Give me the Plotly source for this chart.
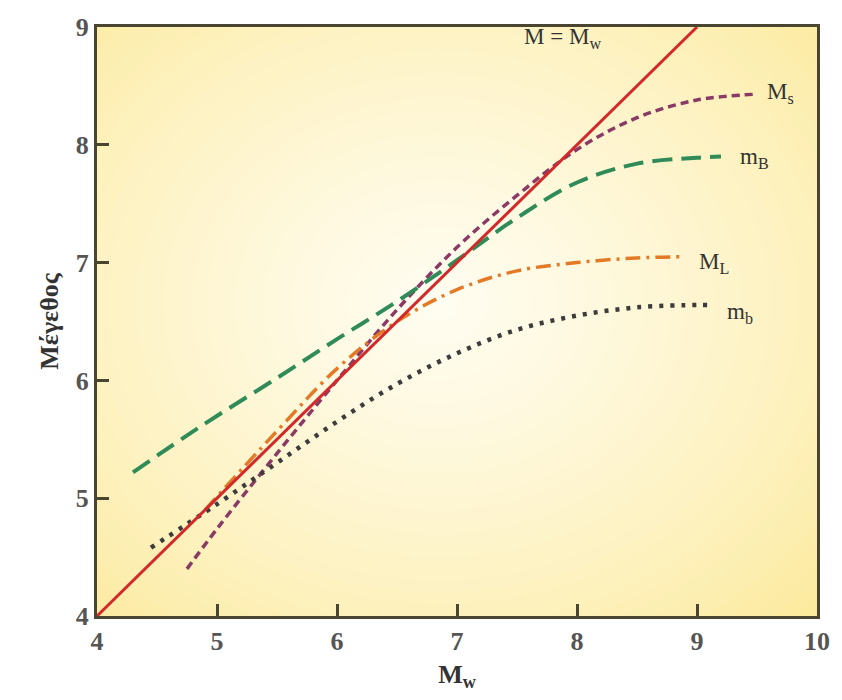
import plotly.graph_objects as go

# ---- data ----
ref_x = [4, 9]
ref_y = [4, 9]

ms_x = [4.75, 5.0, 5.5, 6.0, 6.5, 7.0, 7.5, 8.0, 8.5, 9.0, 9.5]
ms_y = [4.40, 4.74, 5.38, 6.00, 6.60, 7.13, 7.57, 7.96, 8.23, 8.38, 8.43]

mB_x = [4.3, 4.85, 5.5, 6.0, 6.5, 7.0, 7.5, 8.0, 8.5, 9.0, 9.2]
mB_y = [5.22, 5.60, 6.02, 6.35, 6.67, 7.02, 7.38, 7.68, 7.84, 7.89, 7.90]

ml_x = [4.9, 5.5, 6.0, 6.5, 7.0, 7.5, 8.0, 8.5, 8.88]
ml_y = [4.90, 5.57, 6.10, 6.50, 6.77, 6.93, 7.00, 7.04, 7.05]

mb_x = [4.45, 5.0, 5.5, 6.0, 6.5, 7.0, 7.5, 8.0, 8.5, 9.0, 9.1]
mb_y = [4.58, 4.95, 5.30, 5.65, 5.97, 6.23, 6.43, 6.55, 6.62, 6.64, 6.64]

x_ticks = [4, 5, 6, 7, 8, 9, 10]
y_ticks = [4, 5, 6, 7, 8, 9]

labels = ["M = M<sub>w</sub>", "M<sub>s</sub>", "m<sub>B</sub>", "M<sub>L</sub>", "m<sub>b</sub>"]

FRAME = "#4a4530"
SERIF = "Liberation Serif"

fig = go.Figure()

fig.add_trace(go.Scatter(x=ms_x, y=ms_y, mode="lines",
                         line=dict(color="#8a3a66", width=3.5, dash="8px,5px", shape="spline")))
fig.add_trace(go.Scatter(x=mB_x, y=mB_y, mode="lines",
                         line=dict(color="#2f8c58", width=4, dash="20px,9px", shape="spline")))
fig.add_trace(go.Scatter(x=ml_x, y=ml_y, mode="lines",
                         line=dict(color="#e37a26", width=3.5, dash="15px,6px,3px,6px", shape="spline")))
fig.add_trace(go.Scatter(x=mb_x, y=mb_y, mode="lines",
                         line=dict(color="#3c3c3c", width=4.5, dash="4px,7px", shape="spline")))
fig.add_trace(go.Scatter(x=ref_x, y=ref_y, mode="lines",
                         line=dict(color="#d22a2a", width=3)))

# ---- radial yellow-to-white background (pure styling) ----
cx, cy = 6.85, 6.65
n = 40
edge = (251, 231, 145)
centre = (255, 253, 242)
shapes = []
for i in range(n):
    t = i / (n - 1)          # 0 outer -> 1 inner
    r = 1.0 - t
    rx = 4.6 * r + 0.05
    ry = 3.9 * r + 0.05
    c = tuple(int(round(edge[k] + (centre[k] - edge[k]) * (t ** 0.7))) for k in range(3))
    shapes.append(dict(type="circle", xref="x", yref="y", layer="below",
                       x0=cx - rx, x1=cx + rx, y0=cy - ry, y1=cy + ry,
                       fillcolor="rgb(%d,%d,%d)" % c, line=dict(width=0)))

ann_pos = [(7.88, 8.91, "center"), (9.57, 8.44, "left"), (9.34, 7.89, "left"),
           (9.0, 7.0, "left"), (9.23, 6.57, "left")]
annotations = []
for (ax, ay, anc), txt in zip(ann_pos, labels):
    annotations.append(dict(x=ax, y=ay, xref="x", yref="y", text=txt, showarrow=False,
                            xanchor=anc, yanchor="middle",
                            font=dict(family=SERIF, size=23, color="#333333")))

fig.update_layout(
    width=842, height=700,
    margin=dict(l=97, r=22, t=27, b=84),
    paper_bgcolor="white",
    plot_bgcolor="rgb(%d,%d,%d)" % edge,
    showlegend=False,
    shapes=shapes,
    annotations=annotations,
    xaxis=dict(range=[4, 10], tickvals=x_ticks, ticktext=[str(v) for v in x_ticks],
               ticks="inside", ticklen=12, tickwidth=3, tickcolor=FRAME,
               showline=True, linecolor=FRAME, linewidth=3, mirror=True,
               showgrid=False, zeroline=False,
               tickfont=dict(family=SERIF, size=26, color="#555555", weight="bold"),
               title=dict(text="<b>M<sub>w</sub></b>", standoff=10,
                          font=dict(family=SERIF, size=26, color="#333333"))),
    yaxis=dict(range=[4, 9], tickvals=y_ticks, ticktext=[str(v) for v in y_ticks],
               ticks="inside", ticklen=12, tickwidth=3, tickcolor=FRAME,
               showline=True, linecolor=FRAME, linewidth=3, mirror=True,
               showgrid=False, zeroline=False,
               tickfont=dict(family=SERIF, size=26, color="#555555", weight="bold"),
               title=dict(text="<b>Μέγεθος</b>", standoff=10,
                          font=dict(family=SERIF, size=26, color="#333333"))),
)

fig.write_html("out.html")
